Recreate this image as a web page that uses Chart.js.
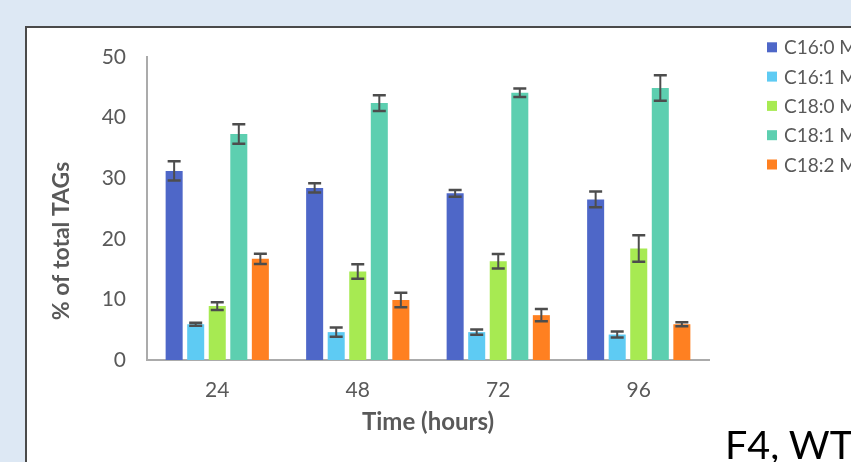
<!DOCTYPE html>
<html>
<head>
<meta charset="utf-8">
<script src="https://cdn.jsdelivr.net/npm/chart.js@4.4.1/dist/chart.umd.min.js"></script>
<style>
  html, body { margin: 0; padding: 0; }
  body { width: 851px; height: 462px; overflow: hidden; background: #dde8f4; position: relative; }
  #panel {
    position: absolute; left: 25px; top: 26px; width: 900px; height: 500px;
    background: #ffffff; border-left: 2px solid #4a4a4a; border-top: 2px solid #4a4a4a;
  }
  #chart { position: absolute; left: 0; top: 0; }
  #tag {
    position: absolute; left: 725px; top: 424px;
    font-family: Lato, "Liberation Sans", sans-serif; font-size: 39.5px; line-height: 1; color: #000;
    white-space: nowrap;
  }
</style>
</head>
<body>
<div id="panel"></div>
<canvas id="chart" width="851" height="462"></canvas>
<div id="tag">F4, WT</div>
<script>
// Time points (hours)
const categories = ['24', '48', '72', '96'];

// Fatty-acid share of total TAGs (%), mean and error per time point
const seriesNames = ['C16:0 M', 'C16:1 M', 'C18:0 M', 'C18:1 M', 'C18:2 M'];
const c160 = [31.2, 28.4, 27.5, 26.5];
const c161 = [5.9, 4.6, 4.6, 4.2];
const c180 = [8.9, 14.6, 16.3, 18.4];
const c181 = [37.3, 42.4, 44.1, 44.9];
const c182 = [16.7, 9.9, 7.4, 5.9];

const c160Err = [1.6, 0.75, 0.55, 1.3];
const c161Err = [0.25, 0.75, 0.45, 0.5];
const c180Err = [0.65, 1.2, 1.2, 2.2];
const c181Err = [1.6, 1.3, 0.7, 2.1];
const c182Err = [0.85, 1.2, 1.0, 0.35];

// Value axis ticks
const yTicks = [0, 10, 20, 30, 40, 50];

const colors = ['#4e67c8', '#5ecbf3', '#a7ea52', '#5dcfb0', '#ff8021'];
const values = [c160, c161, c180, c181, c182];
const errors = [c160Err, c161Err, c180Err, c181Err, c182Err];

const FONT = 'Lato, "Liberation Sans", sans-serif';
const TEXT = '#595959';

// Vertical whiskers with caps on each bar
const errorBars = {
  id: 'errorBars',
  afterDatasetsDraw(chart) {
    const ctx = chart.ctx;
    const y = chart.scales.y;
    ctx.save();
    ctx.strokeStyle = '#4d4d4d';
    chart.data.datasets.forEach((ds, di) => {
      const meta = chart.getDatasetMeta(di);
      meta.data.forEach((bar, i) => {
        const v = ds.data[i];
        const e = ds.errors[i];
        const top = y.getPixelForValue(v + e);
        const bot = y.getPixelForValue(v - e);
        const x = bar.x;
        ctx.lineWidth = 2;
        ctx.beginPath();
        ctx.moveTo(x, top);
        ctx.lineTo(x, bot);
        ctx.stroke();
        ctx.lineWidth = 2.5;
        ctx.beginPath();
        ctx.moveTo(x - 6.5, top);
        ctx.lineTo(x + 6.5, top);
        ctx.moveTo(x - 6.5, bot);
        ctx.lineTo(x + 6.5, bot);
        ctx.stroke();
      });
    });
    ctx.restore();
  }
};

// Rotated value-axis title
const yTitle = {
  id: 'yTitle',
  afterDraw(chart) {
    const ctx = chart.ctx;
    ctx.save();
    ctx.translate(62, 241);
    ctx.rotate(-Math.PI / 2);
    ctx.font = 'bold 23px ' + FONT;
    ctx.fillStyle = TEXT;
    ctx.textAlign = 'center';
    ctx.textBaseline = 'middle';
    ctx.fillText('% of total TAGs', 0, 0);
    ctx.restore();
  }
};

// Series key at the upper right
const sideLegend = {
  id: 'sideLegend',
  afterDraw(chart) {
    const ctx = chart.ctx;
    ctx.save();
    ctx.font = '19px ' + FONT;
    ctx.textAlign = 'left';
    ctx.textBaseline = 'middle';
    chart.data.datasets.forEach((ds, i) => {
      const yc = 47.3 + i * 29.3;
      ctx.fillStyle = ds.backgroundColor;
      ctx.fillRect(767, yc - 5, 10, 10);
      ctx.fillStyle = TEXT;
      ctx.fillText(ds.label, 784, yc + 1);
    });
    ctx.restore();
  }
};

new Chart(document.getElementById('chart'), {
  type: 'bar',
  data: {
    labels: categories,
    datasets: seriesNames.map((name, i) => ({
      label: name,
      data: values[i],
      errors: errors[i],
      backgroundColor: colors[i],
      borderWidth: 0,
      categoryPercentage: 0.767,
      barPercentage: 0.79
    }))
  },
  options: {
    responsive: false,
    animation: false,
    devicePixelRatio: 1,
    layout: { padding: { left: 0, right: 142, top: 57, bottom: 0 } },
    plugins: { legend: { display: false }, tooltip: { enabled: false } },
    scales: {
      x: {
        grid: { display: false, drawTicks: false },
        border: { display: true, color: '#ababab', width: 2 },
        ticks: { color: TEXT, font: { family: FONT, size: 21 }, padding: 18 },
        title: {
          display: true, text: 'Time (hours)', color: TEXT,
          font: { family: FONT, size: 24, weight: 'bold' },
          padding: { top: 0, bottom: 25 }
        },
        afterFit(s) { s.height = 102; }
      },
      y: {
        min: 0, max: 50,
        grid: { display: false, drawTicks: false },
        border: { display: true, color: '#ababab', width: 2 },
        afterBuildTicks(s) { s.ticks = yTicks.map(v => ({ value: v })); },
        ticks: { color: TEXT, font: { family: FONT, size: 21 }, padding: 21 },
        afterFit(s) { s.width = 147; }
      }
    }
  },
  plugins: [errorBars, yTitle, sideLegend]
});
</script>
</body>
</html>
